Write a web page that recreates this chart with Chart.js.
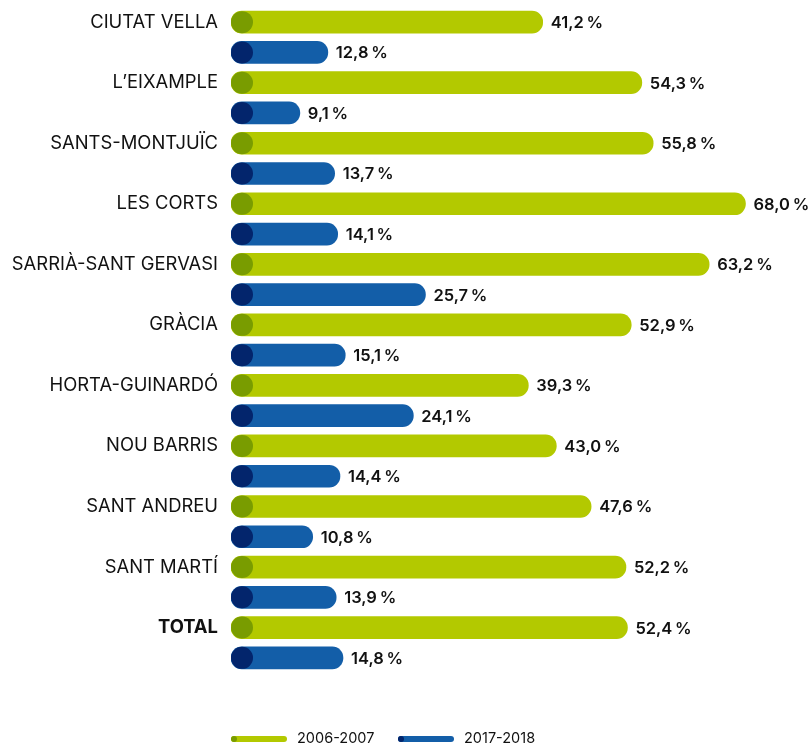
<!DOCTYPE html>
<html>
<head>
<meta charset="utf-8">
<script src="https://cdn.jsdelivr.net/npm/chart.js@4"></script>
<style>
  html, body { margin: 0; padding: 0; background: #fff; }
  #wrap { width: 810px; height: 744px; }
</style>
</head>
<body>
<div id="wrap"><canvas id="chart"></canvas></div>
<script>
const districts = ["CIUTAT VELLA", "L’EIXAMPLE", "SANTS-MONTJUÏC", "LES CORTS", "SARRIÀ-SANT GERVASI",
  "GRÀCIA", "HORTA-GUINARDÓ", "NOU BARRIS", "SANT ANDREU", "SANT MARTÍ", "TOTAL"];
const values2006 = [41.2, 54.3, 55.8, 68.0, 63.2, 52.9, 39.3, 43.0, 47.6, 52.2, 52.4];
const values2018 = [12.8, 9.1, 13.7, 14.1, 25.7, 15.1, 24.1, 14.4, 10.8, 13.9, 14.8];
const seriesNames = ["2006-2007", "2017-2018"];

const light = ["#b3c900", "#135ea8"];
const dark = ["#799c00", "#03256c"];
const FONT = "Inter, 'Noto Sans', sans-serif";

// two rows per district: green row carries the label, blue row is blank
const rowLabels = [];
const rowsA = [];
const rowsB = [];
districts.forEach((d, i) => {
  rowLabels.push(d, "");
  rowsA.push(values2006[i], null);
  rowsB.push(null, values2018[i]);
});

const fmt = v => v.toFixed(1).replace(".", ",") + "\u2009%";

const decorations = {
  id: "decorations",
  afterDatasetsDraw(chart) {
    const ctx = chart.ctx;
    chart.data.datasets.forEach((ds, di) => {
      const meta = chart.getDatasetMeta(di);
      meta.data.forEach((bar, i) => {
        const v = ds.data[i];
        if (v == null) return;
        const h = bar.height;
        // dark dot at the start of each bar
        ctx.save();
        ctx.fillStyle = dark[di];
        ctx.beginPath();
        ctx.arc(bar.base + h / 2, bar.y, h / 2, 0, Math.PI * 2);
        ctx.fill();
        // value label
        ctx.fillStyle = "#111";
        ctx.font = "600 16.5px " + FONT;
        ctx.textBaseline = "middle";
        ctx.textAlign = "left";
        ctx.fillText(fmt(v), bar.x + 8, bar.y + 1);
        ctx.restore();
      });
    });

    // legend
    const y = 739;
    let x = 231;
    ctx.save();
    seriesNames.forEach((name, di) => {
      ctx.lineCap = "round";
      ctx.lineWidth = 6;
      ctx.strokeStyle = light[di];
      ctx.beginPath();
      ctx.moveTo(x + 3, y);
      ctx.lineTo(x + 53, y);
      ctx.stroke();
      ctx.fillStyle = dark[di];
      ctx.beginPath();
      ctx.arc(x + 3, y, 3, 0, Math.PI * 2);
      ctx.fill();
      ctx.fillStyle = "#111";
      ctx.font = "14.5px " + FONT;
      ctx.textBaseline = "middle";
      ctx.fillText(name, x + 66, y);
      x += 167;
    });
    ctx.restore();
  }
};

new Chart(document.getElementById("chart"), {
  type: "bar",
  data: {
    labels: rowLabels,
    datasets: [
      { label: seriesNames[0], data: rowsA, backgroundColor: light[0] },
      { label: seriesNames[1], data: rowsB, backgroundColor: light[1] }
    ]
  },
  options: {
    indexAxis: "y",
    responsive: true,
    maintainAspectRatio: false,
    animation: false,
    layout: { padding: { top: 7, bottom: 71, right: 4, left: 0 } },
    datasets: {
      bar: { barThickness: 22, borderRadius: 11, borderSkipped: false }
    },
    scales: {
      x: {
        display: false,
        min: 0,
        max: 76
      },
      y: {
        stacked: true,
        grid: { display: false, drawTicks: false },
        border: { display: false },
        afterFit(scale) {
          scale.width = 231;
          scale.paddingTop = 0;
          scale.paddingBottom = 0;
        },
        ticks: {
          autoSkip: false,
          padding: 13,
          color: "#111",
          font: c => ({
            family: FONT,
            size: 18.4,
            weight: c.index === rowLabels.length - 2 ? "bold" : "normal"
          })
        }
      }
    },
    plugins: {
      legend: { display: false },
      tooltip: { enabled: false }
    }
  },
  plugins: [decorations]
});
</script>
</body>
</html>
